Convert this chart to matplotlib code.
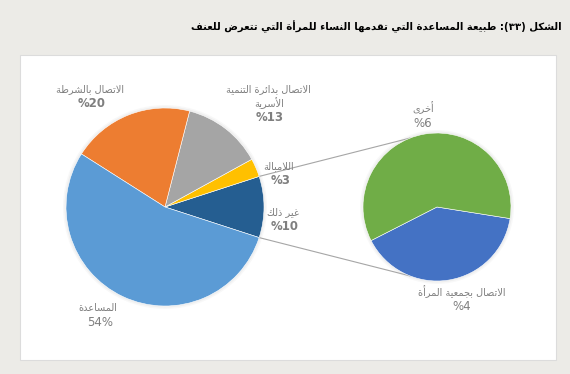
import matplotlib
matplotlib.use('Agg')
import matplotlib.pyplot as plt
import matplotlib.patches as mpatches
import numpy as np

# البيانات
main_labels = ['غير ذلك', 'اللامبالة', 'الاتصال بدائرة التنمية\nالأسرية', 'الاتصال بالشرطة', 'المساعدة']
main_values = [10, 3, 13, 20, 54]
main_colors = ['#255E91', '#FFC000', '#A5A5A5', '#ED7D31', '#5B9BD5']

sub_labels = ['الاتصال بجمعية المرأة', 'أخرى']
sub_values = [4, 6]
sub_colors = ['#4472C4', '#70AD47']

title = 'الشكل (٣٣): طبيعة المساعدة التي تقدمها النساء للمرأة التي تتعرض للعنف'

# تشكيل الحروف العربية (بدون مكتبات خارجية)
DUAL = {'ئ': 0xFE89, 'ب': 0xFE8F, 'ت': 0xFE95, 'ث': 0xFE99, 'ج': 0xFE9D, 'ح': 0xFEA1,
        'خ': 0xFEA5, 'س': 0xFEB1, 'ش': 0xFEB5, 'ص': 0xFEB9, 'ض': 0xFEBD, 'ط': 0xFEC1,
        'ظ': 0xFEC5, 'ع': 0xFEC9, 'غ': 0xFECD, 'ف': 0xFED1, 'ق': 0xFED5, 'ك': 0xFED9,
        'ل': 0xFEDD, 'م': 0xFEE1, 'ن': 0xFEE5, 'ه': 0xFEE9, 'ي': 0xFEF1}
RIGHT = {'آ': 0xFE81, 'أ': 0xFE83, 'ؤ': 0xFE85, 'إ': 0xFE87, 'ا': 0xFE8D, 'ة': 0xFE93,
         'د': 0xFEA9, 'ذ': 0xFEAB, 'ر': 0xFEAD, 'ز': 0xFEAF, 'و': 0xFEED, 'ى': 0xFEEF}
LAM_ALEF = {'آ': 0xFEF5, 'أ': 0xFEF7, 'إ': 0xFEF9, 'ا': 0xFEFB}


def shape_line(s):
    out = []
    i, n = 0, len(s)
    while i < n:
        c = s[i]
        join_prev = i > 0 and s[i - 1] in DUAL
        if c == 'ل' and i + 1 < n and s[i + 1] in LAM_ALEF:
            out.append(chr(LAM_ALEF[s[i + 1]] + (1 if join_prev else 0)))
            i += 2
            continue
        nxt = s[i + 1] if i + 1 < n else ''
        join_next = nxt in DUAL or nxt in RIGHT
        if c in DUAL:
            form = 3 if (join_prev and join_next) else 2 if join_next else 1 if join_prev else 0
            out.append(chr(DUAL[c] + form))
        elif c in RIGHT:
            out.append(chr(RIGHT[c] + (1 if join_prev else 0)))
        elif c == 'ء':
            out.append(chr(0xFE80))
        else:
            out.append(c)
        i += 1
    vis = ''.join(out)[::-1]
    return vis.translate(str.maketrans('()', ')('))


def ar(s):
    return shape_line(s)


W, H = 570, 374
fig = plt.figure(figsize=(W / 100, H / 100), dpi=100, facecolor='#ECEBE7')
ax = fig.add_axes([0, 0, 1, 1])

# اللوحة البيضاء
ax.add_patch(mpatches.Rectangle((20, H - 360), 536, 305, facecolor='white',
                                edgecolor='#DCDCDC', linewidth=0.8, zorder=0))

# العنوان
ax.text(562, H - 27, ar(title), ha='right', va='center', fontsize=7.3,
        fontweight='bold', color='black', family='DejaVu Sans')

grey = '#7F7F7F'

# الدائرة الرئيسية
c1, r1 = (165, H - 207), 99
start1 = -18
for rr, a in [(r1 + 3, 0.05), (r1 + 1.5, 0.08)]:
    ax.add_patch(mpatches.Circle(c1, rr, facecolor='#888888', alpha=a, edgecolor='none', zorder=1))
ax.pie(main_values, colors=main_colors, startangle=start1, counterclock=True,
       center=c1, radius=r1, frame=True,
       wedgeprops=dict(linewidth=0.4, edgecolor='white', zorder=2))

# الدائرة الثانوية
c2, r2 = (437, H - 207), 74
for rr, a in [(r2 + 3, 0.05), (r2 + 1.5, 0.08)]:
    ax.add_patch(mpatches.Circle(c2, rr, facecolor='#888888', alpha=a, edgecolor='none', zorder=1))
ax.pie(sub_values, colors=sub_colors, startangle=207, counterclock=True,
       center=c2, radius=r2, frame=True,
       wedgeprops=dict(linewidth=0.4, edgecolor='white', zorder=2))

ax.set_xlim(0, W)
ax.set_ylim(0, H)
ax.set_aspect('equal')
ax.axis('off')

# خطوط الربط
span = main_values[0] / sum(main_values) * 360
for sgn in (1, -1):
    a1 = np.radians(start1 + (span if sgn > 0 else 0))
    a2 = np.radians(sgn * 111.4)
    p1 = (c1[0] + r1 * np.cos(a1), c1[1] + r1 * np.sin(a1))
    p2 = (c2[0] + r2 * np.cos(a2), c2[1] + r2 * np.sin(a2))
    ax.plot([p1[0], p2[0]], [p1[1], p2[1]], color='#A6A6A6', linewidth=0.8, zorder=1)

# التسميات
main_pos = [(283, 212), (279, 166), (268, 89), (90, 89), (98, 308)]
for i, (lab, v, (x, y)) in enumerate(zip(main_labels, main_values, main_pos)):
    lines = lab.split('\n')
    for k, line in enumerate(lines):
        ax.text(x + k, H - y - 14 * k, ar(line), ha='center', va='center', fontsize=7,
                color=grey, family='DejaVu Sans')
    pct = f'{v}%' if i == 4 else f'%{v}'
    ax.text(x + 2, H - y - 14 * len(lines), pct, ha='center', va='center', fontsize=8.5,
            color=grey, fontweight='bold' if i < 4 else 'normal', family='DejaVu Sans')

sub_pos = [(462, 292), (423, 108)]
for lab, v, (x, y) in zip(sub_labels, sub_values, sub_pos):
    ax.text(x, H - y, ar(lab), ha='center', va='center', fontsize=7,
            color=grey, family='DejaVu Sans')
    ax.text(x, H - y - 15, f'%{v}', ha='center', va='center', fontsize=8.5,
            color=grey, family='DejaVu Sans')

fig.savefig('out.png', dpi=100, facecolor=fig.get_facecolor())
